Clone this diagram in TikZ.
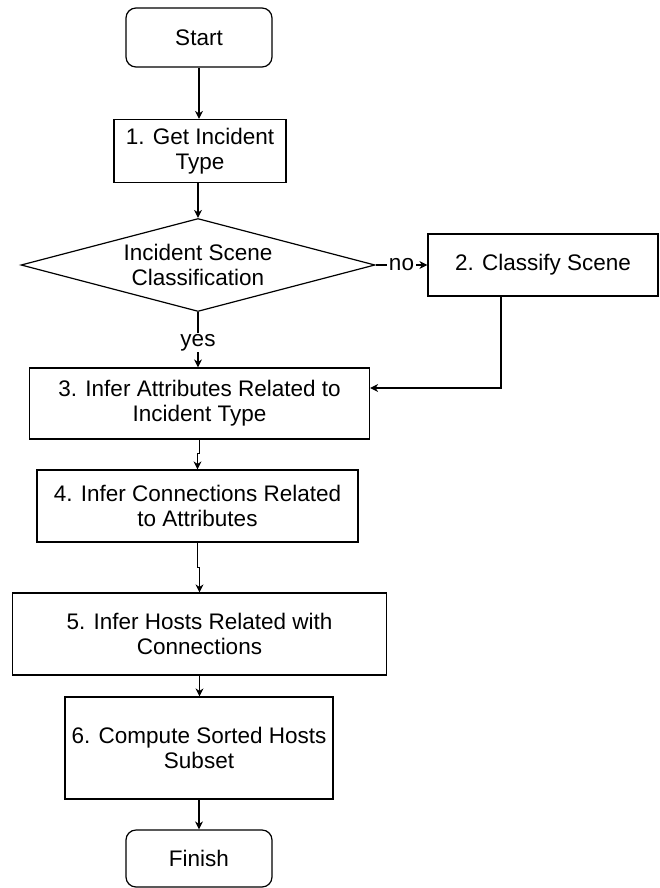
\documentclass[tikz,border=0pt]{standalone}
\usepackage{fontspec}
\setmainfont{Liberation Sans}
\usetikzlibrary{shapes.geometric,arrows.meta}
\begin{document}
\begin{tikzpicture}[x=1pt,y=-1pt,
  every node/.style={font=\fontsize{22.5}{25}\selectfont, align=center, inner sep=0pt},
  outline/.style={draw=black, line width=1.2pt},
  terminal/.style={outline, rectangle, rounded corners=10pt},
  procbox/.style={outline, rectangle},
  decision/.style={outline, diamond, shape aspect=3.8},
  arr/.style={draw=black, line width=1.2pt, -{Stealth[length=8pt,width=8pt,inset=2.5pt]}},
  lbl/.style={fill=white, inner sep=1.5pt}
]
\useasboundingbox (0,0) rectangle (660,888);

% process steps, top to bottom
\node[terminal, minimum width=146, minimum height=59] (start) at (199,37.5) {Start};
\node[procbox, minimum width=172, minimum height=63] (b1) at (200,151) {1. Get Incident\\Type};
\node[decision, minimum width=354, minimum height=93] (dec) at (198,265) {Incident Scene\\Classification};
\node[procbox, minimum width=230, minimum height=62] (b2) at (543,265) {2. Classify Scene};
\node[procbox, minimum width=340, minimum height=71] (b3) at (199.5,403.5) {3. Infer Attributes Related to\\Incident Type};
\node[procbox, minimum width=321, minimum height=72] (b4) at (197.5,506) {4. Infer Connections Related\\to Attributes};
\node[procbox, minimum width=374, minimum height=82] (b5) at (199.5,634) {5. Infer Hosts Related with\\Connections};
\node[procbox, minimum width=268, minimum height=102] (b6) at (199,748) {6. Compute Sorted Hosts\\Subset};
\node[terminal, minimum width=146, minimum height=57] (finish) at (199,858.5) {Finish};

% connectors
\draw[arr] (start.south) -- (start.south |- b1.north);
\draw[arr] (b1.south -| dec.north) -- (dec.north);
\draw[arr] (dec.east) -- node[lbl] {no} (b2.west);
\draw[arr] (dec.south) -- node[lbl, pos=0.55] {yes} (dec.south |- b3.north);
\draw[arr] ([xshift=-42pt]b2.south) |- ([yshift=15.5pt]b3.east);
\draw[arr] (b3.south) -- ++(0,14) -| (b4.north);
\draw[arr] (b4.south) -- ++(0,25) -| (b5.north);
\draw[arr] (b5.south) -- (b5.south |- b6.north);
\draw[arr] (b6.south) -- (finish.north);
\end{tikzpicture}
\end{document}
